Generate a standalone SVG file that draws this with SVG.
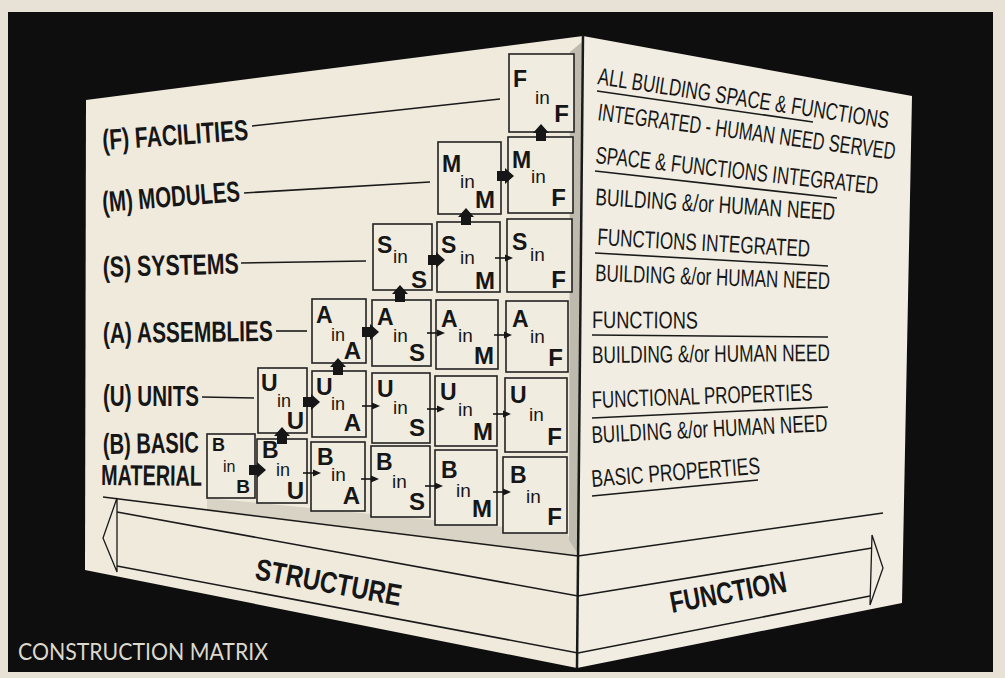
<svg xmlns="http://www.w3.org/2000/svg" xmlns:xlink="http://www.w3.org/1999/xlink" width="1005" height="678" viewBox="0 0 1005 678">
<style>
.face{fill:#efeadc;stroke:none}
.edge{fill:none;stroke:#1a1a1a;stroke-width:2}
.ln{fill:none;stroke:#1a1a1a;stroke-width:1.6}
.box{fill:#f0ece0;stroke:#222;stroke-width:1.6}
.lbl{font-family:"Liberation Sans",Arial,sans-serif;font-weight:bold;font-size:29px;fill:#161616}
.rt{font-family:"Liberation Sans",Arial,sans-serif;font-size:24px;fill:#161616}
.mn{font-family:"Liberation Sans",Arial,sans-serif;font-weight:bold;font-size:23px;fill:#161616}
.in{font-family:"Liberation Sans",Arial,sans-serif;font-size:19px;fill:#161616}
.sb{font-family:"Liberation Sans",Arial,sans-serif;font-weight:bold;font-size:24px;fill:#161616;text-anchor:end}
.band{font-family:"Liberation Sans",Arial,sans-serif;font-weight:bold;font-size:30px;fill:#161616}
.cap{font-family:Lato,"Open Sans",sans-serif;font-size:23px;fill:#dcd8cc}
</style>
<defs>
<path id="thick" d="M-8,-5 H0 V-8 L9,0 L0,8 V5 H-8 Z" fill="#161616"/>
<g id="thin"><path d="M-9,0 H2" stroke="#161616" stroke-width="1.6"/><path d="M1,-3.5 L9,0 L1,3.5 Z" fill="#161616"/></g>
</defs>
<rect x="0" y="0" width="1005" height="678" fill="#e7e2d5"/>
<rect x="8" y="12" width="985" height="660" fill="#0e0e0e"/>
<g id="block">
<polygon class="face" points="86,100 583,36 577,668 85,570"/>
<polygon class="face" points="583,36 912,96 902,603 577,668" style="fill:#f1ede2"/>
<polygon points="207,498 567,533 578,556 207,511" fill="#d8d3c5"/>
<polygon points="570,52 582,42 579,556 569,540" fill="#bfbaae"/>
<line class="edge" x1="583" y1="35" x2="577" y2="668" style="stroke-width:2.5"/>
<polyline class="ln" points="103,497 578,556 883,513"/>
<polyline class="ln" points="117,512 578,596 872,548"/>
<polyline class="ln" points="117,566 578,653 870,596"/>
<polygon class="ln" points="117,498 103,538 117,572" style="stroke-width:1.3"/>
<polygon class="ln" points="872,535 883,568 870,605" style="stroke-width:1.3"/>
</g>
<g id="labels">
<text class="lbl" transform="translate(103,150) rotate(-4)" textLength="146" lengthAdjust="spacingAndGlyphs">(F) FACILITIES</text>
<text class="lbl" transform="translate(103,212) rotate(-4.5)" textLength="138" lengthAdjust="spacingAndGlyphs">(M) MODULES</text>
<text class="lbl" transform="translate(103,277) rotate(-1.5)" textLength="136" lengthAdjust="spacingAndGlyphs">(S) SYSTEMS</text>
<text class="lbl" transform="translate(103,343) rotate(-0.7)" textLength="170" lengthAdjust="spacingAndGlyphs">(A) ASSEMBLIES</text>
<text class="lbl" transform="translate(103,406)" textLength="96" lengthAdjust="spacingAndGlyphs">(U) UNITS</text>
<text class="lbl" transform="translate(103,454) rotate(-1)" textLength="96" lengthAdjust="spacingAndGlyphs">(B) BASIC</text>
<text class="lbl" transform="translate(101,485) rotate(0.5)" textLength="101" lengthAdjust="spacingAndGlyphs">MATERIAL</text>
</g>
<g id="descriptions">
<text class="rt" transform="translate(597,84) rotate(8.7)" textLength="294" lengthAdjust="spacingAndGlyphs">ALL BUILDING SPACE &amp; FUNCTIONS</text>
<line class="ln" x1="597" y1="91" x2="813" y2="122"/>
<text class="rt" transform="translate(597,120) rotate(7.6)" textLength="300" lengthAdjust="spacingAndGlyphs">INTEGRATED - HUMAN NEED SERVED</text>
<text class="rt" transform="translate(595,163) rotate(6.3)" textLength="284" lengthAdjust="spacingAndGlyphs">SPACE &amp; FUNCTIONS INTEGRATED</text>
<line class="ln" x1="595" y1="171" x2="837" y2="198"/>
<text class="rt" transform="translate(595,205) rotate(3.6)" textLength="240" lengthAdjust="spacingAndGlyphs">BUILDING &amp;/or HUMAN NEED</text>
<text class="rt" transform="translate(597,245) rotate(3.2)" textLength="213" lengthAdjust="spacingAndGlyphs">FUNCTIONS INTEGRATED</text>
<line class="ln" x1="595" y1="253" x2="828" y2="266"/>
<text class="rt" transform="translate(595,281) rotate(2)" textLength="235" lengthAdjust="spacingAndGlyphs">BUILDING &amp;/or HUMAN NEED</text>
<text class="rt" transform="translate(592,328) rotate(0.3)" textLength="106" lengthAdjust="spacingAndGlyphs">FUNCTIONS</text>
<line class="ln" x1="592" y1="335" x2="828" y2="337"/>
<text class="rt" transform="translate(592,363) rotate(-0.5)" textLength="238" lengthAdjust="spacingAndGlyphs">BUILDING &amp;/or HUMAN NEED</text>
<text class="rt" transform="translate(592,408) rotate(-2)" textLength="221" lengthAdjust="spacingAndGlyphs">FUNCTIONAL PROPERTIES</text>
<line class="ln" x1="592" y1="418" x2="828" y2="407"/>
<text class="rt" transform="translate(592,443) rotate(-2.9)" textLength="236" lengthAdjust="spacingAndGlyphs">BUILDING &amp;/or HUMAN NEED</text>
<text class="rt" transform="translate(592,487) rotate(-4.5)" textLength="169" lengthAdjust="spacingAndGlyphs">BASIC PROPERTIES</text>
<line class="ln" x1="592" y1="496" x2="758" y2="480"/>
</g>
<g id="n-bb"><rect class="box" x="207" y="434" width="48" height="64"/><text class="mn" x="212" y="451" style="font-size:18px">B</text><text class="in" x="223" y="472" style="font-size:16px">in</text><text class="sb" x="250" y="493" style="font-size:19px">B</text></g>
<g id="n-bu"><rect class="box" x="257" y="439" width="50" height="64"/><text class="mn" x="262" y="458">B</text><text class="in" x="276" y="476" style="font-size:18px">in</text><text class="sb" x="304" y="499">U</text></g>
<g id="n-ba"><rect class="box" x="311" y="442" width="54" height="69"/><text class="mn" x="317" y="465">B</text><text class="in" x="331" y="481">in</text><text class="sb" x="360" y="504">A</text></g>
<g id="n-bs"><rect class="box" x="371" y="446" width="59" height="71"/><text class="mn" x="376" y="470">B</text><text class="in" x="392" y="488">in</text><text class="sb" x="425" y="510">S</text></g>
<g id="n-bm"><rect class="box" x="435" y="450" width="62" height="75"/><text class="mn" x="441" y="478">B</text><text class="in" x="456" y="497">in</text><text class="sb" x="492" y="517">M</text></g>
<g id="n-bf"><rect class="box" x="503" y="457" width="64" height="76"/><text class="mn" x="510" y="483">B</text><text class="in" x="526" y="503">in</text><text class="sb" x="562" y="525">F</text></g>
<g id="n-uu"><rect class="box" x="258" y="368" width="49" height="65"/><text class="mn" x="261" y="391">U</text><text class="in" x="277" y="407" style="font-size:18px">in</text><text class="sb" x="304" y="429">U</text></g>
<g id="n-ua"><rect class="box" x="312" y="371" width="54" height="66"/><text class="mn" x="316" y="395">U</text><text class="in" x="331" y="410" style="font-size:18px">in</text><text class="sb" x="361" y="431">A</text></g>
<g id="n-us"><rect class="box" x="372" y="373" width="58" height="70"/><text class="mn" x="377" y="397">U</text><text class="in" x="393" y="414">in</text><text class="sb" x="425" y="436">S</text></g>
<g id="n-um"><rect class="box" x="435" y="376" width="62" height="70"/><text class="mn" x="440" y="400">U</text><text class="in" x="458" y="416">in</text><text class="sb" x="493" y="440">M</text></g>
<g id="n-uf"><rect class="box" x="505" y="378" width="62" height="74"/><text class="mn" x="510" y="403">U</text><text class="in" x="529" y="421">in</text><text class="sb" x="562" y="445">F</text></g>
<g id="n-aa"><rect class="box" x="312" y="299" width="54" height="64"/><text class="mn" x="316" y="323">A</text><text class="in" x="331" y="341" style="font-size:18px">in</text><text class="sb" x="361" y="359">A</text></g>
<g id="n-as"><rect class="box" x="372" y="300" width="59" height="66"/><text class="mn" x="377" y="325">A</text><text class="in" x="393" y="342">in</text><text class="sb" x="425" y="361">S</text></g>
<g id="n-am"><rect class="box" x="436" y="300" width="62" height="69"/><text class="mn" x="441" y="327">A</text><text class="in" x="458" y="342">in</text><text class="sb" x="494" y="364">M</text></g>
<g id="n-af"><rect class="box" x="506" y="301" width="62" height="71"/><text class="mn" x="512" y="327">A</text><text class="in" x="530" y="343">in</text><text class="sb" x="563" y="366">F</text></g>
<g id="n-ss"><rect class="box" x="373" y="224" width="59" height="66"/><text class="mn" x="377" y="253">S</text><text class="in" x="393" y="263">in</text><text class="sb" x="427" y="288">S</text></g>
<g id="n-sm"><rect class="box" x="437" y="222" width="63" height="70"/><text class="mn" x="441" y="253">S</text><text class="in" x="460" y="264">in</text><text class="sb" x="495" y="289">M</text></g>
<g id="n-sf"><rect class="box" x="507" y="219" width="65" height="73"/><text class="mn" x="512" y="250">S</text><text class="in" x="530" y="261">in</text><text class="sb" x="566" y="288">F</text></g>
<g id="n-mm"><rect class="box" x="438" y="142" width="63" height="72"/><text class="mn" x="442" y="172">M</text><text class="in" x="460" y="188">in</text><text class="sb" x="495" y="208">M</text></g>
<g id="n-mf"><rect class="box" x="508" y="137" width="65" height="76"/><text class="mn" x="512" y="168">M</text><text class="in" x="531" y="183">in</text><text class="sb" x="566" y="206">F</text></g>
<g id="n-ff"><rect class="box" x="509" y="54" width="65" height="78"/><text class="mn" x="513" y="87">F</text><text class="in" x="535" y="104">in</text><text class="sb" x="569" y="122">F</text></g>
<g id="connectors">
<line class="ln" x1="252" y1="126" x2="500" y2="99"/>
<line class="ln" x1="244" y1="193" x2="430" y2="182"/>
<line class="ln" x1="241" y1="263" x2="366" y2="261"/>
<line class="ln" x1="276" y1="331" x2="307" y2="331"/>
<line class="ln" x1="202" y1="397" x2="254" y2="398"/>
<use xlink:href="#thick" transform="translate(257,470)"/>
<use xlink:href="#thick" transform="translate(311,402)"/>
<use xlink:href="#thick" transform="translate(370,332)"/>
<use xlink:href="#thick" transform="translate(436,260)"/>
<use xlink:href="#thick" transform="translate(505,176)"/>
<use xlink:href="#thick" transform="translate(282,436) rotate(-90)"/>
<use xlink:href="#thick" transform="translate(338,367) rotate(-90)"/>
<use xlink:href="#thick" transform="translate(400,294) rotate(-90)"/>
<use xlink:href="#thick" transform="translate(466,217) rotate(-90)"/>
<use xlink:href="#thick" transform="translate(541,133) rotate(-90)"/>
<use xlink:href="#thin" transform="translate(312,473)"/>
<use xlink:href="#thin" transform="translate(370,479)"/>
<use xlink:href="#thin" transform="translate(434,486)"/>
<use xlink:href="#thin" transform="translate(502,492)"/>
<use xlink:href="#thin" transform="translate(371,406)"/>
<use xlink:href="#thin" transform="translate(436,409)"/>
<use xlink:href="#thin" transform="translate(502,414)"/>
<use xlink:href="#thin" transform="translate(436,333)"/>
<use xlink:href="#thin" transform="translate(503,335)"/>
<use xlink:href="#thin" transform="translate(504,258)"/>
</g>
<g id="bands">
<text class="band" transform="translate(254,579) rotate(10.5)" textLength="148" lengthAdjust="spacingAndGlyphs">STRUCTURE</text>
<text class="band" transform="translate(672,613) rotate(-10.5)" textLength="118" lengthAdjust="spacingAndGlyphs">FUNCTION</text>
</g>
<text class="cap" x="18" y="660" textLength="250" lengthAdjust="spacingAndGlyphs">CONSTRUCTION MATRIX</text>
</svg>
